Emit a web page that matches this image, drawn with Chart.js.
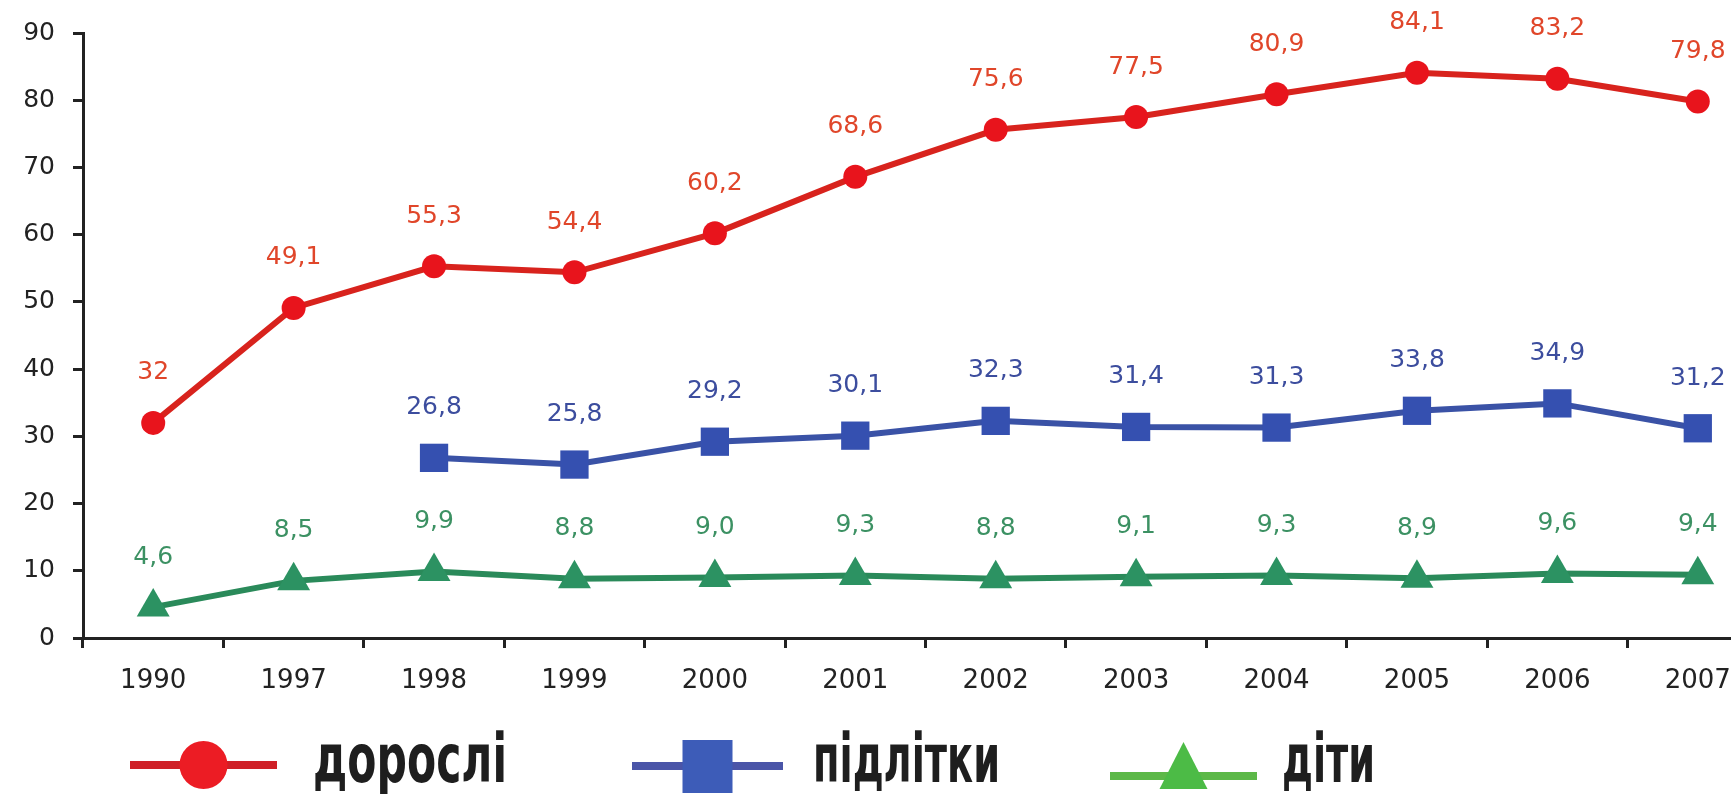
<!DOCTYPE html>
<html>
<head>
<meta charset="utf-8">
<script src="https://cdn.jsdelivr.net/npm/chart.js@4"></script>
<style>
  html, body { margin: 0; padding: 0; background: #fff; overflow: hidden; }
  #wrap { width: 1788px; height: 794px; }
</style>
</head>
<body>
<div id="wrap"><canvas id="c" width="1788" height="794"></canvas></div>
<script>
const years = ['1990', '1997', '1998', '1999', '2000', '2001', '2002', '2003', '2004', '2005', '2006', '2007'];
const adults = [32, 49.1, 55.3, 54.4, 60.2, 68.6, 75.6, 77.5, 80.9, 84.1, 83.2, 79.8];
const teens = [null, null, 26.8, 25.8, 29.2, 30.1, 32.3, 31.4, 31.3, 33.8, 34.9, 31.2];
const children = [4.6, 8.5, 9.9, 8.8, 9.0, 9.3, 8.8, 9.1, 9.3, 8.9, 9.6, 9.4];
const seriesNames = ['дорослі', 'підлітки', 'діти'];
const yTicks = [0, 10, 20, 30, 40, 50, 60, 70, 80, 90];

const fmt = v => (Number.isInteger(v) && v >= 10) ? String(v) : v.toFixed(1).replace('.', ',');

const valueLabels = {
  id: 'valueLabels',
  afterDatasetsDraw(chart) {
    const ctx = chart.ctx;
    ctx.save();
    ctx.font = '25px "DejaVu Sans"';
    ctx.textAlign = 'center';
    ctx.textBaseline = 'middle';
    chart.data.datasets.forEach((ds, i) => {
      const meta = chart.getDatasetMeta(i);
      ctx.fillStyle = ds.labelColor;
      meta.data.forEach((pt, j) => {
        const v = ds.data[j];
        if (v === null || v === undefined) return;
        ctx.fillText(fmt(v), pt.x, pt.y - 50);
      });
    });
    ctx.restore();
  }
};

const bottomLegend = {
  id: 'bottomLegend',
  afterDraw(chart, args, opts) {
    const ctx = chart.ctx;
    ctx.save();
    opts.items.forEach((it, i) => {
      const ds = chart.data.datasets[i];
      ctx.strokeStyle = it.line;
      ctx.lineWidth = 8;
      ctx.beginPath();
      ctx.moveTo(it.x0, it.y);
      ctx.lineTo(it.x1, it.y);
      ctx.stroke();
      ctx.fillStyle = it.fill;
      const cx = (it.x0 + it.x1) / 2;
      ctx.beginPath();
      if (it.shape === 'circle') {
        ctx.arc(cx, it.y, 24, 0, Math.PI * 2);
      } else if (it.shape === 'rect') {
        ctx.rect(cx - 25, it.y - 26, 50, 53);
      } else {
        ctx.moveTo(cx, it.y - 34);
        ctx.lineTo(cx + 24, it.y + 13);
        ctx.lineTo(cx - 24, it.y + 13);
        ctx.closePath();
      }
      ctx.fill();
      ctx.fillStyle = '#1e1e1e';
      ctx.font = 'bold 68px "DejaVu Sans Condensed"';
      ctx.textBaseline = 'alphabetic';
      ctx.textAlign = 'left';
      const w = ctx.measureText(ds.label).width;
      const sx = it.tw / w;
      ctx.save();
      ctx.translate(it.tx, 782);
      ctx.scale(sx, 1);
      ctx.fillText(ds.label, 0, 0);
      ctx.restore();
    });
    ctx.restore();
  }
};

new Chart(document.getElementById('c'), {
  type: 'line',
  data: {
    labels: years,
    datasets: [
      {
        label: seriesNames[0], data: adults,
        borderColor: '#d8231d', backgroundColor: '#e8141c',
        borderWidth: 6, pointStyle: 'circle', pointRadius: 12,
        pointBorderWidth: 0, labelColor: '#e0462a'
      },
      {
        label: seriesNames[1], data: teens,
        borderColor: '#3a52a6', backgroundColor: '#3550b0',
        borderWidth: 6, pointStyle: 'rect', pointRadius: 20,
        pointBorderWidth: 0, labelColor: '#3c4d9e'
      },
      {
        label: seriesNames[2], data: children,
        borderColor: '#2a8a5a', backgroundColor: '#2c9262',
        borderWidth: 6, pointStyle: 'triangle', pointRadius: 19,
        pointBorderWidth: 0, labelColor: '#3c9163'
      }
    ]
  },
  options: {
    responsive: false,
    animation: false,
    spanGaps: false,
    layout: { padding: { top: 30, right: 3, bottom: 86, left: 0 } },
    elements: { line: { tension: 0 } },
    plugins: {
      legend: { display: false },
      tooltip: { enabled: false },
      bottomLegend: {
        items: [
          { x0: 130, x1: 277, y: 765, line: '#cf2027', fill: '#ec1c24', shape: 'circle', tx: 313, tw: 194 },
          { x0: 632, x1: 783, y: 766, line: '#4a55a8', fill: '#3d5cb8', shape: 'rect', tx: 813, tw: 187 },
          { x0: 1110, x1: 1257, y: 776, line: '#5cb848', fill: '#4cbb46', shape: 'triangle', tx: 1282, tw: 93 }
        ]
      }
    },
    scales: {
      x: {
        offset: true,
        grid: { display: true, offset: true, drawOnChartArea: false, drawTicks: true, tickLength: 10, color: '#222', lineWidth: 3 },
        border: { display: true, color: '#222', width: 3 },
        ticks: { color: '#222', font: { family: 'DejaVu Sans', size: 26 }, padding: 18, maxRotation: 0 },
        afterFit: s => { s.height = 70; }
      },
      y: {
        min: 0, max: 90,
        afterBuildTicks: s => { s.ticks = yTicks.map(v => ({ value: v })); },
        grid: { display: true, drawOnChartArea: false, drawTicks: true, tickLength: 10, color: '#222', lineWidth: 3 },
        border: { display: true, color: '#222', width: 3 },
        ticks: { color: '#222', font: { family: 'DejaVu Sans', size: 25 }, padding: 18 },
        afterFit: s => { s.width = 83; }
      }
    }
  },
  plugins: [valueLabels, bottomLegend]
});
</script>
</body>
</html>
